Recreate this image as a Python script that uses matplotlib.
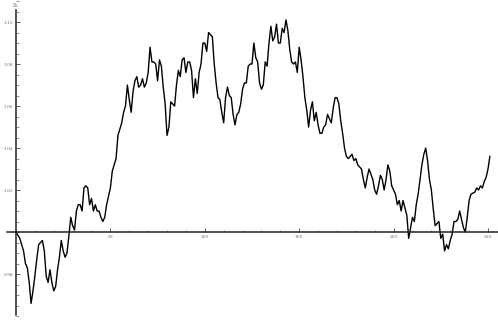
import numpy as np
import matplotlib
matplotlib.use("Agg")
import matplotlib.pyplot as plt
from matplotlib.ticker import MultipleLocator, FixedLocator

# simulated price path S_t over one trading year
days = [0, 2, 3, 4, 5, 6, 7, 8, 9, 10, 11, 12, 14, 15, 16, 17, 18, 19, 20, 21,
        22, 23, 24, 25, 26, 27, 28, 29, 30, 31, 32, 33, 34, 35, 36, 37, 38, 39, 40, 41,
        42, 43, 44, 45, 46, 47, 48, 49, 50, 51, 53, 54, 56, 57, 58, 59, 60, 61, 62, 63,
        64, 65, 66, 67, 68, 69, 70, 71, 72, 73, 74, 75, 76, 77, 78, 79, 80, 81, 82, 83,
        84, 85, 86, 87, 88, 89, 90, 91, 92, 93, 94, 95, 96, 97, 98, 99, 100, 101, 102, 103,
        104, 105, 106, 107, 108, 109, 110, 111, 112, 113, 114, 115, 116, 117, 118, 119, 120, 121, 122, 123,
        124, 125, 126, 127, 128, 129, 130, 131, 132, 133, 134, 135, 136, 137, 138, 139, 140, 141, 142, 143,
        144, 145, 146, 147, 148, 149, 150, 151, 152, 153, 154, 155, 156, 157, 158, 159, 160, 161, 162, 163,
        164, 165, 166, 167, 168, 169, 170, 171, 172, 173, 174, 175, 176, 177, 178, 179, 180, 181, 183, 184,
        185, 186, 187, 189, 190, 191, 192, 193, 194, 195, 196, 197, 198, 199, 200, 201, 202, 203, 204, 205,
        207, 208, 209, 210, 211, 212, 213, 214, 215, 216, 217, 218, 219, 220, 221, 222, 224, 225, 226, 227,
        228, 229, 230, 231, 232, 233, 234, 235, 236, 237, 238, 239, 240, 241, 243, 244, 245, 246, 247, 248,
        249, 250, 251]
prices = [1.000, 0.997, 0.994, 0.991, 0.985, 0.983, 0.976, 0.966, 0.972, 0.979, 0.987, 0.994, 0.996, 0.991, 0.979, 0.976, 0.982, 0.976, 0.972, 0.974,
          0.982, 0.988, 0.996, 0.991, 0.988, 0.990, 0.998, 1.007, 1.003, 1.001, 1.010, 1.013, 1.013, 1.010, 1.021, 1.022, 1.021, 1.013, 1.016, 1.010,
          1.013, 1.010, 1.010, 1.007, 1.005, 1.007, 1.013, 1.017, 1.021, 1.029, 1.035, 1.046, 1.052, 1.057, 1.060, 1.070, 1.063, 1.057, 1.067, 1.072,
          1.074, 1.069, 1.070, 1.073, 1.069, 1.071, 1.076, 1.088, 1.081, 1.081, 1.080, 1.072, 1.082, 1.079, 1.069, 1.061, 1.046, 1.050, 1.062, 1.061,
          1.060, 1.070, 1.077, 1.074, 1.082, 1.083, 1.076, 1.081, 1.081, 1.077, 1.064, 1.073, 1.066, 1.076, 1.080, 1.090, 1.090, 1.086, 1.095, 1.094,
          1.093, 1.080, 1.071, 1.064, 1.063, 1.057, 1.052, 1.064, 1.069, 1.065, 1.064, 1.056, 1.051, 1.056, 1.057, 1.061, 1.068, 1.071, 1.071, 1.079,
          1.080, 1.080, 1.090, 1.083, 1.081, 1.071, 1.068, 1.070, 1.081, 1.079, 1.090, 1.098, 1.091, 1.093, 1.099, 1.090, 1.090, 1.097, 1.095, 1.101,
          1.096, 1.087, 1.081, 1.080, 1.081, 1.076, 1.088, 1.082, 1.074, 1.064, 1.058, 1.050, 1.058, 1.062, 1.053, 1.057, 1.051, 1.047, 1.047, 1.050,
          1.051, 1.056, 1.054, 1.052, 1.059, 1.064, 1.064, 1.061, 1.053, 1.047, 1.040, 1.036, 1.035, 1.036, 1.037, 1.034, 1.035, 1.032, 1.030, 1.025,
          1.021, 1.026, 1.030, 1.025, 1.020, 1.018, 1.022, 1.027, 1.025, 1.020, 1.025, 1.032, 1.029, 1.022, 1.020, 1.018, 1.013, 1.015, 1.010, 1.015,
          1.008, 0.997, 1.002, 1.007, 1.005, 1.013, 1.018, 1.025, 1.032, 1.037, 1.040, 1.034, 1.025, 1.020, 1.011, 1.003, 1.005, 0.997, 0.999, 0.991,
          0.994, 0.992, 0.996, 0.999, 1.005, 1.005, 1.006, 1.010, 1.006, 1.002, 1.000, 1.007, 1.015, 1.018, 1.019, 1.021, 1.020, 1.022, 1.021, 1.024,
          1.026, 1.030, 1.036]

x_major = [50, 100, 150, 200, 250]
y_major = [0.98, 1.02, 1.04, 1.06, 1.08, 1.10]
y_labels = ["0.98", "1.02", "1.04", "1.06", "1.08", "1.10"]

fig = plt.figure(figsize=(4.98, 3.2), dpi=100)
ax = fig.add_axes([0, 0, 1, 1])
ax.set_xlim(-8.47, 255.3)
ax.set_ylim(0.9581, 1.1105)

ax.plot(days, prices, color="black", linewidth=1.0, solid_joinstyle="round")

# axes crossing at the origin (0, 1)
for side in ["top", "right"]:
    ax.spines[side].set_visible(False)
ax.spines["left"].set_position(("data", 0))
ax.spines["bottom"].set_position(("data", 1.0))
ax.spines["left"].set_bounds(0.9605, 1.1057)
ax.spines["bottom"].set_bounds(-4.5, 255.3)
for side in ["left", "bottom"]:
    ax.spines[side].set_linewidth(1.1)
    ax.spines[side].set_color("#222222")

ax.xaxis.set_major_locator(FixedLocator(x_major))
ax.xaxis.set_minor_locator(MultipleLocator(10))
ax.yaxis.set_major_locator(FixedLocator(y_major))
ax.yaxis.set_minor_locator(MultipleLocator(0.005))
ax.set_yticklabels(y_labels)

ax.tick_params(which="both", direction="in", color="#444444", labelcolor="#777777",
               labelsize=3.2)
ax.tick_params(which="major", length=3, width=0.6, pad=2)
ax.tick_params(which="minor", length=1.8, width=0.4)

ax.text(-0.5, 1.1080, r"$S_t$", ha="center", va="center", fontsize=3.6, color="#555555")

fig.savefig("out.png", dpi=100)
